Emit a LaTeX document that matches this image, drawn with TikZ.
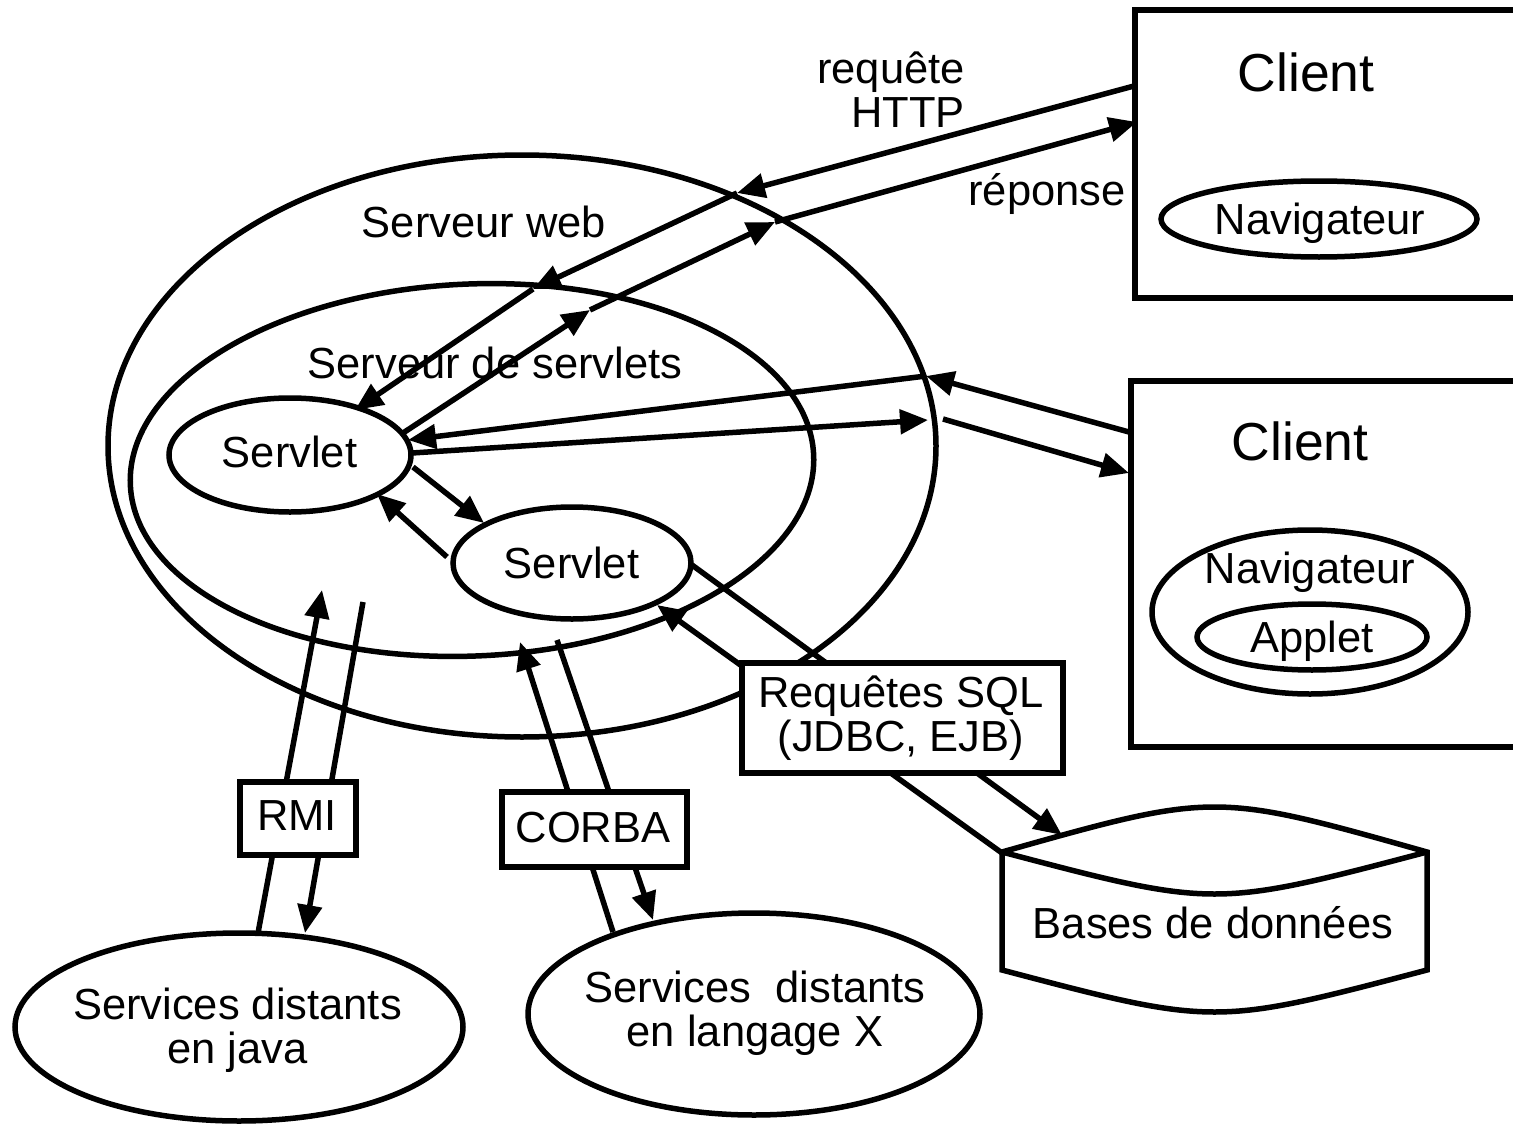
\documentclass[tikz,border=0pt]{standalone}
\usepackage{fontspec}
\setmainfont{Liberation Sans}
\usetikzlibrary{shapes.geometric,arrows.meta}
\begin{document}
\begin{tikzpicture}[x=1pt,y=-1pt,
  txt/.style={font=\fontsize{43.5}{44}\selectfont, inner sep=0pt},
  big/.style={font=\fontsize{53.5}{54}\selectfont, inner sep=0pt},
  ell/.style={draw, ellipse, line width=5.5pt, inner sep=0pt, outer sep=0pt},
  con/.style={line width=5.5pt, -{Triangle[length=28pt,width=24pt]}},
  boxn/.style={draw, fill=white, line width=5.5pt, inner sep=0pt, outer sep=0pt},
  clbox/.style={draw, line width=6pt, inner sep=0pt, outer sep=0pt, anchor=north west, minimum width=400pt},
]
\useasboundingbox (0,0) rectangle (1513,1124);
\clip (0,0) rectangle (1513,1124);
\fill[white] (0,0) rectangle (1513,1124);

% server ellipses
\node[ell, minimum width=828pt, minimum height=582pt] (web) at (522,446) {};
\node[ell, minimum width=684pt, minimum height=372pt, rotate=2.5] (ss) at (472,470) {};
\node[ell, minimum width=242pt, minimum height=114pt] (s1) at (290,455) {};
\node[ell, minimum width=238pt, minimum height=112pt] (s2) at (572,563) {};

% remote services
\node[ell, minimum width=448pt, minimum height=188pt] (java) at (239,1027) {};
\node[ell, minimum width=452pt, minimum height=202pt] (lx) at (754,1014) {};

% clients
\node[clbox, minimum height=288pt] (cl1) at (1135,10) {};
\node[clbox, minimum height=366pt] (cl2) at (1131,381) {};
\node[ell, minimum width=316pt, minimum height=76pt] (nav1) at (1319,219) {};
\node[ell, minimum width=316pt, minimum height=164pt] (nav2) at (1310,612) {};
\node[ell, minimum width=230pt, minimum height=66pt] (app) at (1312,637) {};

% database
\draw[line width=5.5pt, fill=white] (1002,852) .. controls (1214.5,792) .. (1427,852) -- (1427,970) .. controls (1214.5,1026) .. (1002,970) -- cycle;
\draw[line width=5.5pt] (1002,852) .. controls (1214.5,908) .. (1427,852);

% labels
\node[txt, anchor=base] (lweb) at (484,237) {Serveur web};
\node[txt, anchor=base] (lss) at (495,378) {Serveur de servlets};
\node[txt, anchor=base] (ls1) at (289.5,467) {Servlet};
\node[txt, anchor=base] (ls2) at (571.5,578) {Servlet};
\node[big, anchor=base] (lc1) at (1306,92) {Client};
\node[big, anchor=base] (lc2) at (1300,460) {Client};
\node[txt, anchor=base] (ln1) at (1320,234) {Navigateur};
\node[txt, anchor=base] (ln2) at (1310,583) {Navigateur};
\node[txt, anchor=base] (lapp) at (1312,652) {Applet};
\node[txt, anchor=base] (lrep) at (1047,205) {réponse};
\node[txt, align=right, anchor=east] (lreq) at (965,89.5) {requête\\HTTP};
\node[txt, anchor=base] (ldb) at (1213,938) {Bases de données};
\node[txt, align=center] (ljava) at (237.5,1030.5) {Services distants\\en java};
\node[txt, align=center] (llx) at (755,1013.5) {Services\ \ distants\\en langage X};

% connector points
\coordinate (q0) at (1134,86);
\coordinate (rq1) at (737,193);
\coordinate (rq2) at (533,289);
\coordinate (rq3) at (355,410);
\coordinate (rp0) at (403,433);
\coordinate (rp1) at (590,310);
\coordinate (rp2) at (775,222);
\coordinate (rp3) at (1137,122);
\coordinate (c0) at (1129,432);
\coordinate (c1) at (926,376);
\coordinate (c2) at (408,440);
\coordinate (d0) at (412,453);
\coordinate (d1) at (928,420);
\coordinate (d2) at (943,419);
\coordinate (d3) at (1129,473);
\coordinate (e0) at (413,467);
\coordinate (e1) at (484,523);
\coordinate (f0) at (447,557);
\coordinate (f1) at (377,494);
\coordinate (g0) at (258,933);
\coordinate (g1) at (322,590);
\coordinate (h0) at (363,602);
\coordinate (h1) at (305,933);
\coordinate (i0) at (613,932);
\coordinate (i1) at (520,642);
\coordinate (j0) at (557,640);
\coordinate (j1) at (653,920);
\coordinate (k0) at (692,565);
\coordinate (k1) at (1062,835);
\coordinate (l0) at (1002,853);
\coordinate (l1) at (657,605);

% HTTP request / response
\draw[con] (q0) -- (rq1);
\draw[con] (rq1) -- (rq2);
\draw[con] (rq2) -- (rq3);
\draw[con] (rp0) -- (rp1);
\draw[con] (rp1) -- (rp2);
\draw[con] (rp2) -- (rp3);

% applet client
\draw[con] (c0) -- (c1);
\draw[con] (c1) -- (c2);
\draw[con] (d0) -- (d1);
\draw[con] (d2) -- (d3);

% servlet to servlet
\draw[con] (e0) -- (e1);
\draw[con] (f0) -- (f1);

% RMI / CORBA / SQL
\draw[con] (g0) -- (g1);
\draw[con] (h0) -- (h1);
\draw[con] (i0) -- (i1);
\draw[con] (j0) -- (j1);
\draw[con] (k0) -- (k1);
\draw[con] (l0) -- (l1);

% protocol boxes
\node[boxn, minimum width=116pt, minimum height=73pt] (rmi) at (298,818.5) {};
\node[txt, anchor=base] (lrmi) at (297,830) {RMI};
\node[boxn, minimum width=185pt, minimum height=75pt] (corba) at (594.5,829.5) {};
\node[txt, anchor=base] (lcorba) at (593,842) {CORBA};
\node[boxn, minimum width=321pt, minimum height=110pt] (sql) at (902.5,718) {};
\node[txt, align=center] (lsql) at (901,718.5) {Requêtes SQL\\(JDBC, EJB)};
\end{tikzpicture}
\end{document}
